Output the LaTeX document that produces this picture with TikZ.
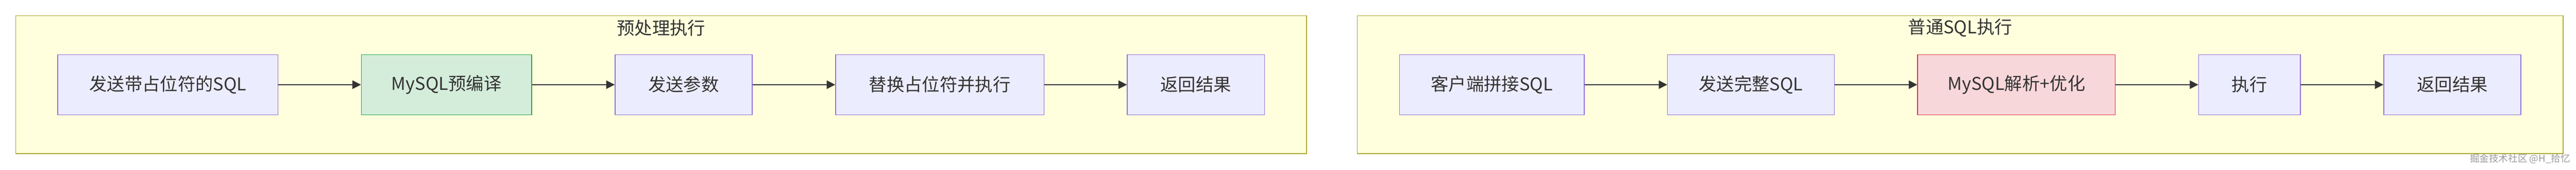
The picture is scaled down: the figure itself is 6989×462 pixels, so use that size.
\documentclass[tikz,border=0pt]{standalone}
\usepackage{fontspec}
\setmainfont{Noto Sans CJK SC}
\usepackage{tikz}
\usetikzlibrary{backgrounds}
\usetikzlibrary{arrows.meta, fit, positioning}

\definecolor{lanefill}{HTML}{FFFFDE}
\definecolor{laneline}{HTML}{AAAA33}
\definecolor{stepfill}{HTML}{ECECFF}
\definecolor{stepline}{HTML}{9370DB}
\definecolor{greenfill}{HTML}{D4EDDA}
\definecolor{greenline}{HTML}{28A745}
\definecolor{redfill}{HTML}{F8D7DA}
\definecolor{redline}{HTML}{DC3545}
\definecolor{inkc}{HTML}{333333}

\tikzset{
  stepbox/.style={draw=stepline, fill=stepfill, line width=0.02cm, inner sep=0,
    minimum height=1.63cm, text=inkc, font=\fontsize{13.66pt}{16pt}\selectfont},
  compilebox/.style={stepbox, draw=greenline, fill=greenfill},
  parsebox/.style={stepbox, draw=redline, fill=redfill},
  lane/.style={draw=laneline, fill=lanefill, line width=0.02cm, inner xsep=1.13cm, inner ysep=1.05cm},
  lanetitle/.style={inner sep=0, text=inkc, font=\fontsize{13.66pt}{16pt}\selectfont},
  flow/.style={draw=inkc, line width=0.02cm, -{Triangle[length=0.23cm,width=0.23cm]}},
  credit/.style={inner sep=0, text=black!40, font=\fontsize{7.4pt}{9pt}\selectfont}
}

\begin{document}
\begin{tikzpicture}[x=0.01cm, y=-0.01cm]
          \useasboundingbox (0,0) rectangle (6989,462);
          % Prepared statement
          \node[stepbox, minimum width=5.97cm] (sendTpl) at (455.5,230.5) {发送带占位符的SQL};
          \node[compilebox, minimum width=4.62cm, right=2.24cm of sendTpl] (precompile) {MySQL预编译};
          \node[stepbox, minimum width=3.72cm, right=2.24cm of precompile] (sendArgs) {发送参数};
          \node[stepbox, minimum width=5.65cm, right=2.24cm of sendArgs] (bindExec) {替换占位符并执行};
          \node[stepbox, minimum width=3.72cm, right=2.24cm of bindExec] (prepResult) {返回结果};
          % Plain SQL
          \node[stepbox, minimum width=5.01cm] (concat) at (4047.5,230.5) {客户端拼接SQL};
          \node[stepbox, minimum width=4.52cm, right=2.24cm of concat] (sendFull) {发送完整SQL};
          \node[parsebox, minimum width=5.36cm, right=2.24cm of sendFull] (parseOpt) {MySQL解析+优化};
          \node[stepbox, minimum width=2.76cm, right=2.24cm of parseOpt] (execute) {执行};
          \node[stepbox, minimum width=3.72cm, right=2.24cm of execute] (plainResult) {返回结果};
          % Lanes
          \begin{scope}[on background layer]
            \node[lane, fit=(sendTpl) (prepResult)] (prepLane) {};
            \node[lane, fit=(concat) (plainResult)] (plainLane) {};
          \end{scope}
          \node[lanetitle] (prepTitle) at ([yshift=-0.345cm]prepLane.north) {预处理执行};
          \node[lanetitle] (plainTitle) at ([yshift=-0.345cm]plainLane.north) {普通SQL执行};
          % Arrows
          \draw[flow] (sendTpl) -- (precompile);
          \draw[flow] (precompile) -- (sendArgs);
          \draw[flow] (sendArgs) -- (bindExec);
          \draw[flow] (bindExec) -- (prepResult);
          \draw[flow] (concat) -- (sendFull);
          \draw[flow] (sendFull) -- (parseOpt);
          \draw[flow] (parseOpt) -- (execute);
          \draw[flow] (execute) -- (plainResult);
          % Watermark
          \node[credit, anchor=east] (creditText) at (6974,432) {掘金技术社区 @H\_拾忆};
        \end{tikzpicture}
\end{document}
